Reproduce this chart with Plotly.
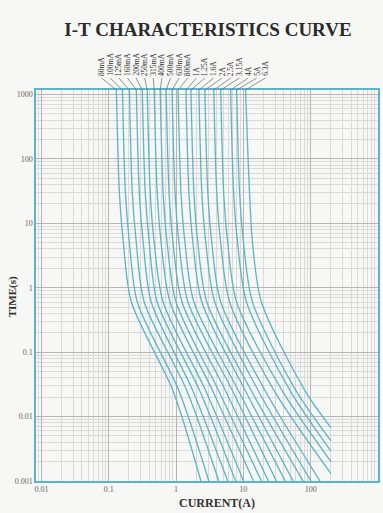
import math
import numpy as np
import plotly.graph_objects as go

# ---------------- data ----------------
ratings = ["80mA", "100mA", "125mA", "160mA", "200mA", "250mA", "315mA", "400mA",
           "500mA", "630mA", "800mA", "1A", "1.25A", "1.6A", "2A", "2.5A", "3.15A",
           "4A", "5A", "6.3A"]

# pre-arcing time levels (s) at which currents were read
time_levels = [1200, 30, 5, 0.6, 0.025]

# current (A) of each curve at time_levels, plus the current at the curve's end point
currents = [
    [0.130, 0.144, 0.165, 0.217, 0.903, 2.34],
    [0.160, 0.177, 0.203, 0.266, 1.107, 3.07],
    [0.203, 0.224, 0.257, 0.337, 1.453, 4.31],
    [0.257, 0.285, 0.326, 0.428, 1.781, 5.85],
    [0.315, 0.349, 0.400, 0.525, 2.26, 7.67],
    [0.373, 0.414, 0.474, 0.643, 2.77, 10.07],
    [0.474, 0.525, 0.601, 0.816, 3.51, 14.13],
    [0.581, 0.643, 0.737, 1.00, 4.31, 18.54],
    [0.712, 0.788, 0.903, 1.226, 5.46, 23.5],
    [0.873, 0.967, 1.107, 1.503, 6.93, 30.9],
    [1.07, 1.185, 1.358, 1.843, 8.49, 41.9],
    [1.404, 1.555, 1.781, 2.417, 10.77, 55.0],
    [1.664, 1.843, 2.11, 2.866, 13.21, 77.3],
    [2.184, 2.417, 2.77, 3.759, 16.75, 101.4],
    [2.678, 2.965, 3.40, 4.61, 21.2, 137.6],
    [3.634, 4.024, 4.61, 6.252, 28.8, 200],
    [4.61, 5.10, 5.85, 7.94, 37.9, 200],
    [6.47, 7.17, 8.21, 11.14, 49.7, 200],
    [7.94, 8.79, 10.07, 13.67, 60.9, 200],
    [10.77, 12.35, 13.67, 18.54, 82.7, 200],
]
# time (s) at each curve's end point
end_times = [0.001, 0.001, 0.001, 0.001, 0.001, 0.001, 0.001, 0.001, 0.001, 0.001,
             0.001, 0.001, 0.001, 0.001, 0.001, 0.0013, 0.0020, 0.0029, 0.0042, 0.0067]

x_tickvals = [0.01, 0.1, 1, 10, 100, 1000]
x_ticktext = ["0.01", "0.1", "1", "10", "100", "1000"]
y_tickvals = [0.001, 0.01, 0.1, 1, 10, 100, 1000]
y_ticktext = ["0.001", "0.01", "0.1", "1", "10", "100", "1000"]

# ---------------- style ----------------
CURVE = "#5ab5c8"
SERIF = "Liberation Serif, Times New Roman, serif"
BG = "#f7f7f5"
X_RANGE = [-2.08, 3.0]
Y_RANGE = [-3.0, 3.07]

fig = go.Figure()
for name, cur, tend in zip(ratings, currents, end_times):
    fig.add_trace(go.Scatter(
        x=cur, y=time_levels + [tend], mode="lines", name=name,
        line=dict(color=CURVE, width=1.3, shape="spline", smoothing=0.8),
        showlegend=False, hoverinfo="skip",
    ))

# rating labels with leader lines (fanned out above the chart)
label_pos = np.linspace(-1.106, 1.326, len(ratings))
annotations = []
for name, cur, lp in zip(ratings, currents, label_pos):
    annotations.append(dict(
        x=math.log10(cur[0]), y=Y_RANGE[1], xref="x", yref="y",
        text=name, showarrow=True, arrowhead=0, arrowwidth=0.7, arrowcolor="#666",
        axref="x", ax=float(lp), ayref="pixel", ay=-12,
        textangle=-90, xanchor="left", yanchor="middle",
        font=dict(family=SERIF, size=7.5, color="#333"),
    ))

annotations.append(dict(
    text="<b>TIME(s)</b>", xref="paper", yref="paper", x=-0.07, y=0.47,
    textangle=-90, showarrow=False, xanchor="center", yanchor="middle",
    font=dict(family=SERIF, size=11, color="#333"),
))
annotations.append(dict(
    text="<b>CURRENT(A)</b>", xref="paper", yref="paper", x=0.53, y=-0.056,
    showarrow=False, xanchor="center", yanchor="middle",
    font=dict(family=SERIF, size=12, color="#333"),
))

axis_common = dict(
    type="log", showline=True, linecolor=CURVE, linewidth=1.5, mirror=True,
    showgrid=True, gridcolor="#b5b5b5", gridwidth=0.8,
    ticks="", tickfont=dict(family=SERIF, size=8, color="#666"),
    minor=dict(showgrid=True, gridcolor="#dadada", gridwidth=0.6, dtick="D1"),
    zeroline=False,
)

fig.update_layout(
    width=383, height=513,
    margin=dict(l=36, r=3, t=90, b=32),
    paper_bgcolor=BG, plot_bgcolor=BG,
    title=dict(text="<b>I-T CHARACTERISTICS CURVE</b>", x=0.543, xref="container",
               y=0.942, yref="container", xanchor="center", yanchor="middle",
               font=dict(family=SERIF, size=19, color="#2a2a2a")),
    xaxis=dict(range=X_RANGE, tickvals=x_tickvals, ticktext=x_ticktext, **axis_common),
    yaxis=dict(range=Y_RANGE, tickvals=y_tickvals, ticktext=y_ticktext, **axis_common),
    annotations=annotations,
)

fig.write_html("out.html", config={"displayModeBar": False},
               post_script="document.body.style.margin='0px';")
